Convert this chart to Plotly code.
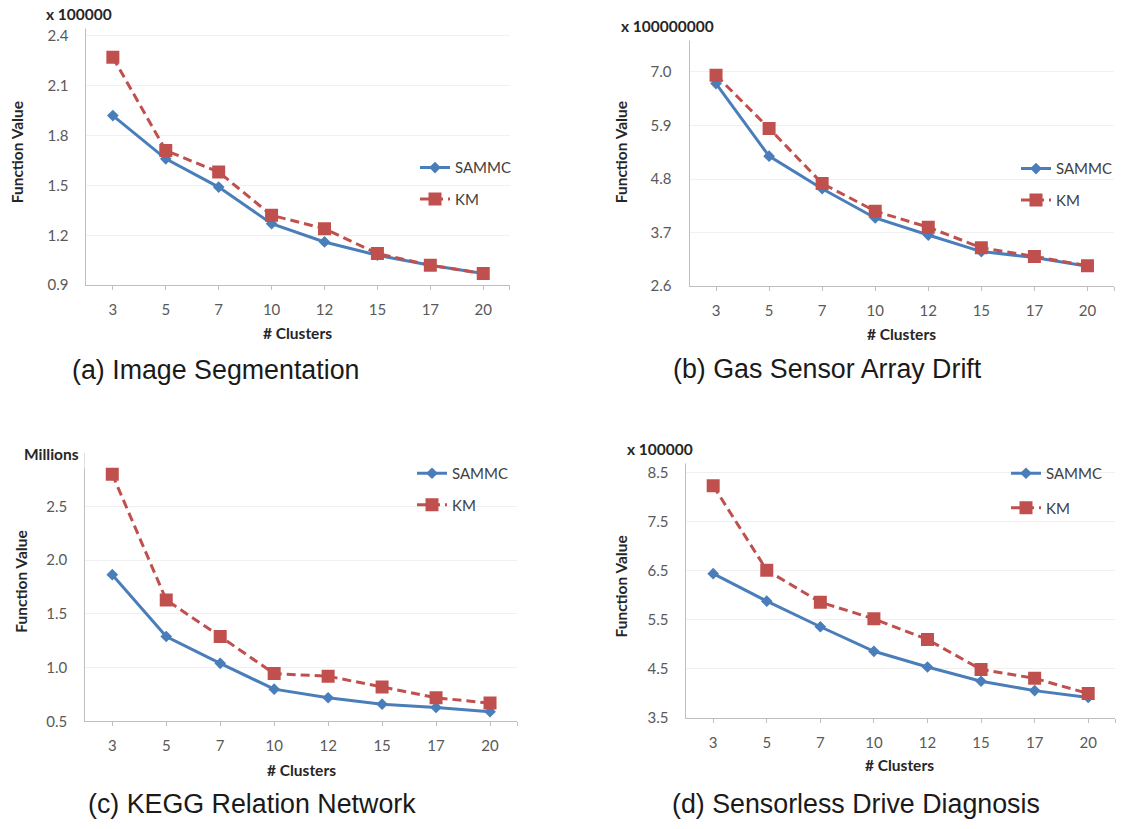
import plotly.graph_objects as go

# Number of clusters evaluated
clusters = ["3", "5", "7", "10", "12", "15", "17", "20"]

# (a) Image Segmentation, x 100000
seg_sammc = [1.92, 1.66, 1.49, 1.27, 1.16, 1.08, 1.02, 0.97]
seg_km = [2.27, 1.71, 1.58, 1.32, 1.24, 1.09, 1.02, 0.97]
seg_ticks = [0.9, 1.2, 1.5, 1.8, 2.1, 2.4]

# (b) Gas Sensor Array Drift, x 100000000
gas_sammc = [6.76, 5.27, 4.60, 4.00, 3.65, 3.31, 3.19, 3.01]
gas_km = [6.93, 5.84, 4.71, 4.14, 3.81, 3.39, 3.21, 3.02]
gas_ticks = [2.6, 3.7, 4.8, 5.9, 7.0, 8.1]

# (c) KEGG Relation Network, millions
kegg_sammc = [1.865, 1.29, 1.04, 0.80, 0.72, 0.66, 0.63, 0.59]
kegg_km = [2.80, 1.63, 1.29, 0.945, 0.92, 0.82, 0.72, 0.67]
kegg_ticks = [0.5, 1.0, 1.5, 2.0, 2.5, 3.0]

# (d) Sensorless Drive Diagnosis, x 100000
drive_sammc = [6.44, 5.88, 5.36, 4.86, 4.54, 4.25, 4.06, 3.92]
drive_km = [8.23, 6.51, 5.86, 5.52, 5.10, 4.49, 4.31, 4.00]
drive_ticks = [3.5, 4.5, 5.5, 6.5, 7.5, 8.5]

W, H = 1125, 829
BLUE = "#4A7EBB"
RED = "#C0504D"
AXIS_GRAY = "#BFBFBF"
TICK_FONT = dict(family="Lato, Open Sans, sans-serif", size=15, color="#595959")
BOLD_FONT = dict(family="Lato, Open Sans, sans-serif", size=15.5, color="#262626", weight="bold")
CAPTION_FONT = dict(family="Liberation Sans, Arial, sans-serif", size=26.8, color="#1A1A1A")

def px_x(x):
    return x / W

def px_y(y):
    return 1 - y / H

panels = [
    dict(s=seg_sammc, k=seg_km, ticks=seg_ticks, hide_top=False, rng=[0.9, 2.45],
         xd=(86.4, 509.7), yd=(26.7, 287.3)),
    dict(s=gas_sammc, k=gas_km, ticks=gas_ticks, hide_top=True, rng=[2.6, 8.1],
         xd=(689.5, 1114), yd=(17.5, 288.3)),
    dict(s=kegg_sammc, k=kegg_km, ticks=kegg_ticks, hide_top=True, rng=[0.5, 3.0],
         xd=(85.3, 517), yd=(456.7, 728.3)),
    dict(s=drive_sammc, k=drive_km, ticks=drive_ticks, hide_top=False, rng=[3.5, 8.72],
         xd=(686.4, 1115), yd=(465.7, 725)),
]

# legend box anchor (left, top) in pixels and gap between entries
legend_pos = [(415, 152, 9), (1016, 153, 9), (412, 461, 9), (1006, 461, 12)]

fig = go.Figure()
layout = dict(width=W, height=H, margin=dict(l=0, r=0, t=0, b=0),
              paper_bgcolor="white", plot_bgcolor="white", showlegend=True)

xi = list(range(len(clusters)))
for i, p in enumerate(panels, start=1):
    sfx = "" if i == 1 else str(i)
    leg = "legend" if i == 1 else f"legend{i}"
    fig.add_trace(go.Scatter(
        x=xi, y=p["s"], name="SAMMC", mode="lines+markers",
        line=dict(color=BLUE, width=3),
        marker=dict(symbol="diamond", size=9, color=BLUE),
        xaxis="x" + sfx, yaxis="y" + sfx, legend=leg, legendgroup=f"s{i}",
    ))
    fig.add_trace(go.Scatter(
        x=xi, y=p["k"], name="KM", mode="lines+markers",
        line=dict(color=RED, width=3, dash="9px,5px"),
        marker=dict(symbol="square", size=13, color=RED),
        xaxis="x" + sfx, yaxis="y" + sfx, legend=leg, legendgroup=f"k{i}",
    ))
    ticktext = [f"{t:.1f}" for t in p["ticks"]]
    if p["hide_top"]:
        ticktext[-1] = ""
    layout["xaxis" + sfx] = dict(
        domain=[px_x(p["xd"][0]), px_x(p["xd"][1])],
        anchor="y" + sfx, range=[-0.5, 7.5],
        tickvals=xi + [7.5], ticktext=clusters + [""],
        ticks="outside", ticklen=4, tickcolor=AXIS_GRAY, tickwidth=1,
        showline=True, linecolor=AXIS_GRAY, linewidth=1,
        showgrid=False, zeroline=False, tickfont=TICK_FONT,
        ticklabelstandoff=7, fixedrange=True,
    )
    layout["yaxis" + sfx] = dict(
        domain=[px_y(p["yd"][1]), px_y(p["yd"][0])],
        anchor="x" + sfx, range=p["rng"],
        tickvals=p["ticks"], ticktext=ticktext,
        ticks="", showline=True, linecolor=AXIS_GRAY, linewidth=1,
        showgrid=True, gridcolor="#F0F0F0", gridwidth=1,
        zeroline=False, tickfont=TICK_FONT, ticklabelstandoff=14, fixedrange=True,
    )
    lx, ly, gap = legend_pos[i - 1]
    layout[leg] = dict(
        x=px_x(lx), y=px_y(ly), xanchor="left", yanchor="top",
        bgcolor="rgba(0,0,0,0)", tracegroupgap=gap,
        font=dict(family="Lato, Open Sans, sans-serif", size=15, color="#404040"),
        itemclick=False, itemdoubleclick=False,
    )

fig.update_layout(**layout)

annotations = []

def text_at(text, x, y, font, angle=0, bg=None):
    a = dict(text=text, x=px_x(x), y=px_y(y), xref="paper", yref="paper",
             xanchor="center", yanchor="middle", showarrow=False, font=font,
             textangle=angle)
    if bg:
        a.update(bgcolor=bg, borderpad=5)
    annotations.append(a)

# panel captions
text_at("(a) Image Segmentation", 215, 373, CAPTION_FONT)
text_at("(b) Gas Sensor Array Drift", 827, 372, CAPTION_FONT)
text_at("(c) KEGG Relation Network", 252, 812, CAPTION_FONT)
text_at("(d) Sensorless Drive Diagnosis", 856, 812, CAPTION_FONT)

# x-axis titles
text_at("# Clusters", 297, 336, BOLD_FONT)
text_at("# Clusters", 901, 337, BOLD_FONT)
text_at("# Clusters", 301, 777, BOLD_FONT)
text_at("# Clusters", 899, 772, BOLD_FONT)

# y-axis titles
text_at("Function Value", 17, 153, BOLD_FONT, angle=-90)
text_at("Function Value", 621, 153, BOLD_FONT, angle=-90)
text_at("Function Value", 21, 587, BOLD_FONT, angle=-90)
text_at("Function Value", 621, 592, BOLD_FONT, angle=-90)

# display-unit labels
text_at("x 100000", 79, 13, BOLD_FONT, bg="white")
text_at("x 100000000", 667, 25, BOLD_FONT, bg="white")
text_at("Millions", 51, 458, BOLD_FONT, bg="white")
text_at("x 100000", 660, 453, BOLD_FONT, bg="white")

fig.update_layout(annotations=annotations)
fig.write_html("out.html")
